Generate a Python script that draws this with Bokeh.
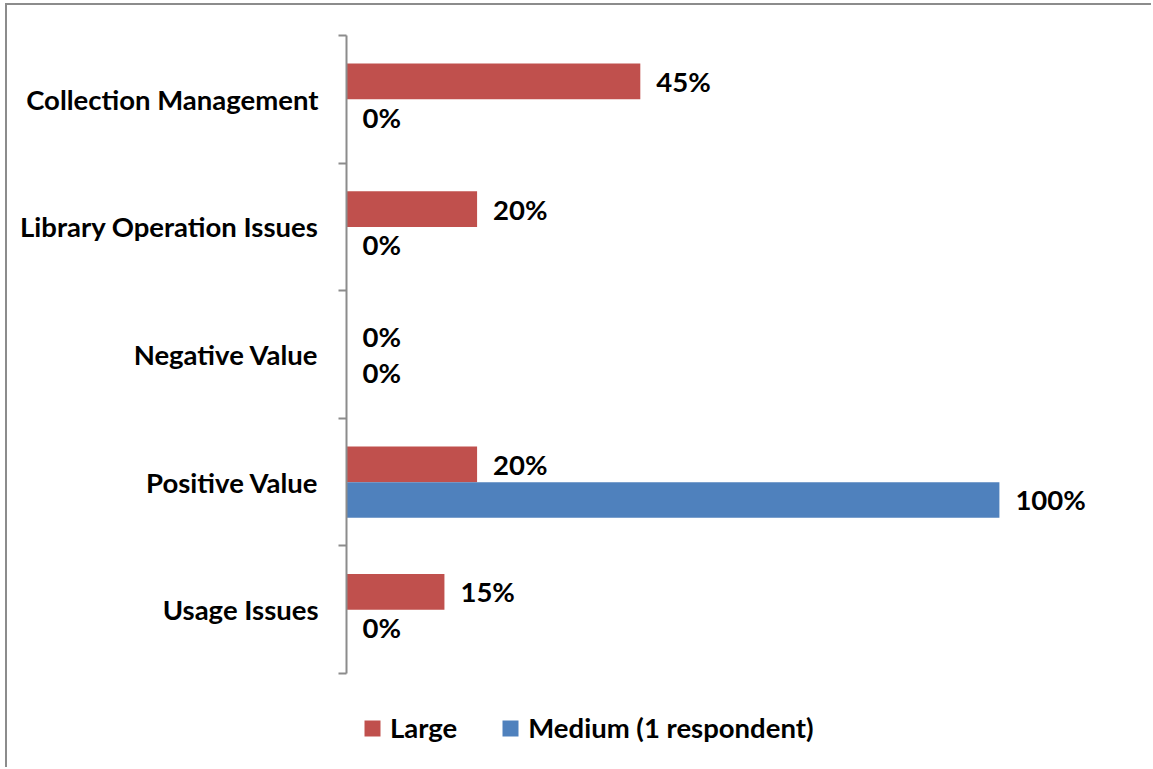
from bokeh.plotting import figure
from bokeh.models import Range1d, FixedTicker, Legend, LegendItem, ColumnDataSource
from bokeh.core.properties import value
from bokeh.embed import file_html
from bokeh.resources import INLINE

categories = ["Collection Management", "Library Operation Issues", "Negative Value",
              "Positive Value", "Usage Issues"]
large = [45, 20, 0, 20, 15]
medium = [0, 0, 0, 100, 0]
series_names = ["Large", "Medium (1 respondent)"]
colors = ["#C0504D", "#4F81BD"]

FONT = "Lato"
FS = "27.5px"

n = len(categories)
centers = [i + 0.5 for i in range(n)]
bar_h = 0.28

p = figure(width=1146, height=764, output_backend="svg", toolbar_location=None,
           x_range=Range1d(0, 123.6), y_range=Range1d(5.752, 0),
           min_border_left=339, min_border_right=0, min_border_top=30,
           min_border_bottom=0)
p.styles = {"margin-left": "5px", "margin-top": "3px",
            "border-left": "2px solid #8c8c8c", "border-top": "2px solid #8c8c8c"}
p.outline_line_color = None
p.xgrid.visible = False
p.ygrid.visible = False
p.xaxis.visible = False

src_l = ColumnDataSource(dict(y=[c - bar_h / 2 for c in centers], v=large,
                              t=[f"{v}%" for v in large]))
src_m = ColumnDataSource(dict(y=[c + bar_h / 2 for c in centers], v=medium,
                              t=[f"{v}%" for v in medium]))

r1 = p.hbar(y="y", right="v", left=0, height=bar_h, source=src_l,
            fill_color=colors[0], line_color=None)
r2 = p.hbar(y="y", right="v", left=0, height=bar_h, source=src_m,
            fill_color=colors[1], line_color=None)

for src in (src_l, src_m):
    p.text(x="v", y="y", text="t", source=src, x_offset=16,
           text_align="left", text_baseline="middle",
           text_font=value(FONT), text_font_style="bold",
           text_font_size=FS, text_color="black")

ax = p.yaxis[0]
ax.bounds = (0, n)
ax.ticker = FixedTicker(ticks=centers, minor_ticks=list(range(n + 1)))
ax.major_label_overrides = {c: cat for c, cat in zip(centers, categories)}
ax.major_tick_out = 0
ax.major_tick_in = 0
ax.minor_tick_out = 8
ax.minor_tick_in = 0
ax.minor_tick_line_color = "#8c8c8c"
ax.minor_tick_line_width = 2
ax.axis_line_color = "#8c8c8c"
ax.axis_line_width = 2
ax.major_label_standoff = 20
ax.major_label_text_font = FONT
ax.major_label_text_font_style = "bold"
ax.major_label_text_font_size = FS
ax.major_label_text_color = "black"

legend = Legend(items=[LegendItem(label=series_names[0], renderers=[r1]),
                       LegendItem(label=series_names[1], renderers=[r2])],
                orientation="horizontal", location=(16, 25),
                margin=0, padding=0, spacing=43,
                glyph_width=20, glyph_height=20, label_standoff=8,
                label_text_font=FONT, label_text_font_style="bold",
                label_text_font_size=FS, label_text_color="black",
                border_line_color=None, background_fill_alpha=0)
p.add_layout(legend, "center")

open("out.html", "w").write(file_html(p, INLINE))
